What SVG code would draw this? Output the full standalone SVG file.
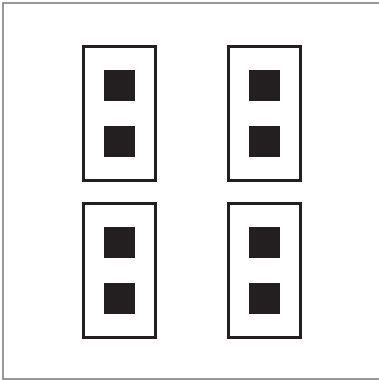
<svg xmlns="http://www.w3.org/2000/svg" width="379" height="381" viewBox="0 0 379 381">
  <style>
    .frame { fill: none; stroke: #777; stroke-width: 1.5; }
    .box { fill: #fff; stroke: #231f20; stroke-width: 3; }
    .sq { fill: #231f20; }
  </style>
  <rect width="379" height="381" fill="#fff"/>
  <rect class="frame" x="3" y="3" width="378" height="376"/>
  <g id="node1">
    <rect class="box" x="83.5" y="46.5" width="72" height="134"/>
    <rect class="sq" x="104" y="70" width="31" height="31"/>
    <rect class="sq" x="104" y="126" width="31" height="31"/>
  </g>
  <g id="node2">
    <rect class="box" x="228.5" y="46.5" width="72" height="134"/>
    <rect class="sq" x="249" y="70" width="31" height="31"/>
    <rect class="sq" x="249" y="126" width="31" height="31"/>
  </g>
  <g id="node3">
    <rect class="box" x="83.5" y="203.5" width="72" height="134"/>
    <rect class="sq" x="104" y="227" width="31" height="31"/>
    <rect class="sq" x="104" y="283" width="31" height="31"/>
  </g>
  <g id="node4">
    <rect class="box" x="228.5" y="203.5" width="72" height="134"/>
    <rect class="sq" x="249" y="227" width="31" height="31"/>
    <rect class="sq" x="249" y="283" width="31" height="31"/>
  </g>
  <g id="connectors"/>
</svg>
